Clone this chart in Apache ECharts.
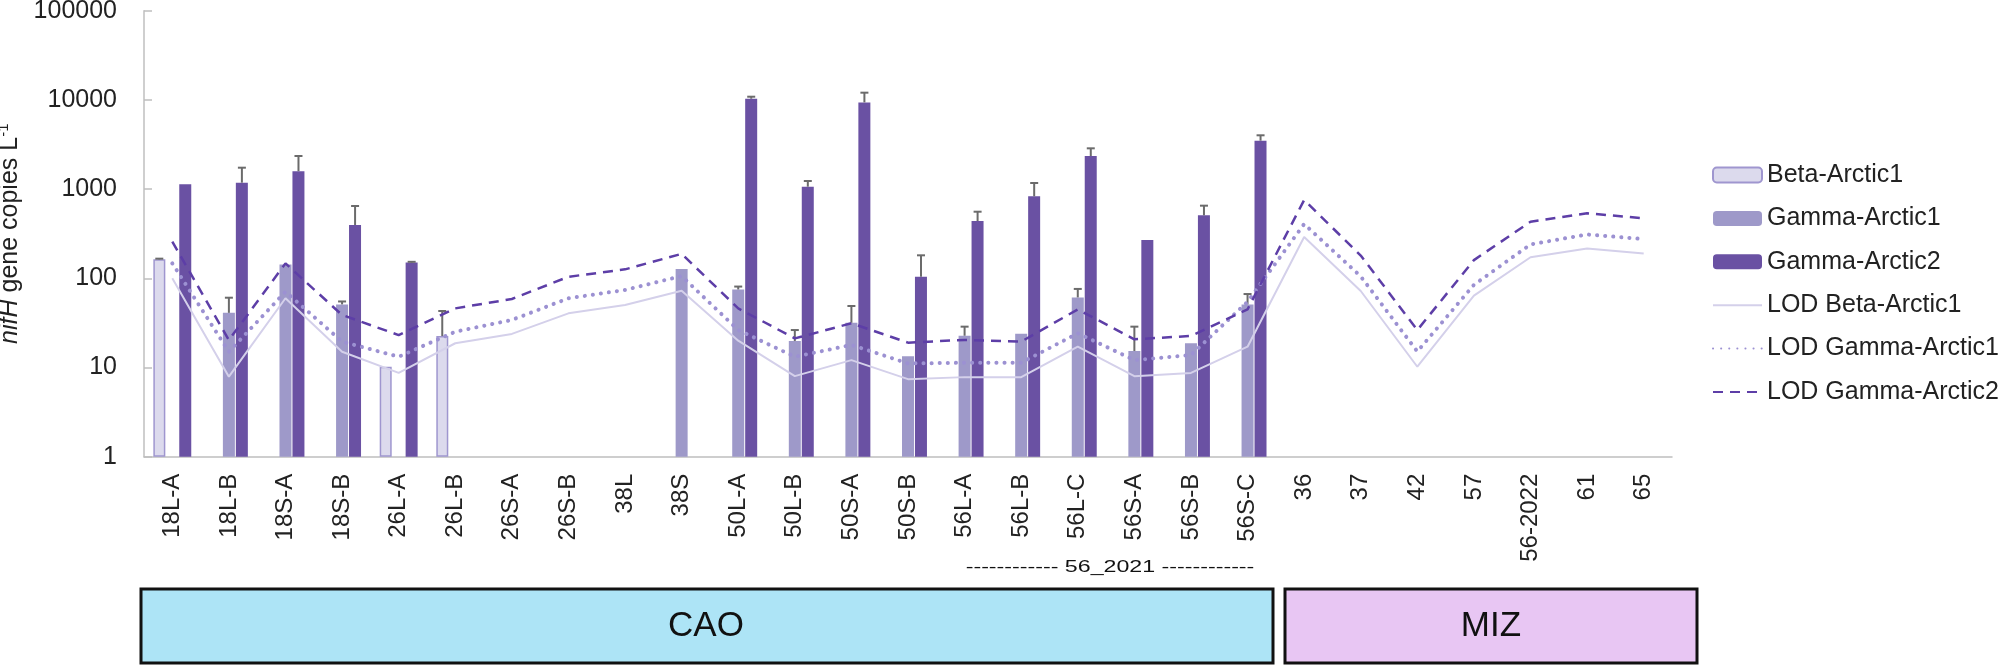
<!DOCTYPE html>
<html>
<head>
<meta charset="utf-8">
<script src="https://cdn.jsdelivr.net/npm/echarts@6/dist/echarts.min.js"></script>
<style>
  html, body { margin: 0; padding: 0; background: #fff; }
  #chart { width: 2000px; height: 665px; }
</style>
</head>
<body>
<div id="chart"></div>
<script>
const categories = ['18L-A','18L-B','18S-A','18S-B','26L-A','26L-B','26S-A','26S-B','38L','38S','50L-A','50L-B','50S-A','50S-B','56L-A','56L-B','56L-C','56S-A','56S-B','56S-C','36','37','42','57','56-2022','61','65'];

const betaArctic1 =   [163, null, null, null, 10.2, 22.5, null, null, null, null, null, null, null, null, null, null, null, null, null, null, null, null, null, null, null, null, null];
const betaArctic1Up = [166, null, null, null, null, 43, null, null, null, null, null, null, null, null, null, null, null, null, null, null, null, null, null, null, null, null, null];

const gammaArctic1 =   [null, 41, 143, 51, null, null, null, null, null, 127, 75, 19.8, 31.7, 13.4, 22.7, 23.9, 61, 15.3, 18.7, 51, null, null, null, null, null, null, null];
const gammaArctic1Up = [null, 60.6, null, 55, null, null, null, null, null, null, 80.8, 26.3, 48.9, null, 28.7, null, 76, 28.7, null, 66.6, null, null, null, null, null, null, null];

const gammaArctic2 =   [1132, 1180, 1587, 396, 150, null, null, null, null, null, 10310, 1064, 9380, 104, 439, 830, 2350, 269, 508, 3490, null, null, null, null, null, null, null];
const gammaArctic2Up = [null, 1738, 2350, 646, 153, null, null, null, null, null, 10860, 1233, 12050, 181, 558, 1170, 2865, null, 652, 4010, null, null, null, null, null, null, null];

const lodBetaArctic1 =  [100, 7.9, 59.7, 15, 8.7, 18.7, 23.8, 40.5, 50.2, 72.6, 20, 8.0, 12.1, 7.4, 7.8, 7.8, 17.1, 8.0, 8.7, 17.1, 290, 72, 10.2, 64, 172, 216, 190];
const lodGammaArctic1 = [147, 15, 70.8, 19.5, 13.2, 25.2, 34.1, 59.7, 74, 106, 26.3, 13.2, 17.9, 11.1, 11.3, 11.3, 24.2, 12.1, 13.8, 54.6, 406, 105, 15.1, 84.5, 240, 310, 275];
const lodGammaArctic2 = [257, 20.3, 147, 38.8, 23.1, 46, 58.6, 104, 126, 188, 46, 21.2, 31.3, 19.0, 20.4, 19.5, 44.8, 20.7, 22.6, 44.9, 755, 180, 26.3, 160, 431, 535, 470];

const regionNames = ['CAO', 'MIZ'];
const subGroupLabel = '------------ 56_2021 ------------';

const FONT = 'Liberation Sans, Arial, sans-serif';
const C_BETA = '#dcdaed', C_BETA_B = '#9f96cf';
const C_G1 = '#9e99c9';
const C_G2 = '#6a51a3';
const C_LOD_B = '#d4d0ea', C_LOD_G1 = '#9c91d2', C_LOD_G2 = '#5d3ea7';
const ERR = '#6b6b6b';

function errData(mean, up) {
  const out = [];
  for (let i = 0; i < mean.length; i++) {
    if (mean[i] != null && up[i] != null) out.push([i, mean[i], up[i]]);
  }
  return out;
}
function errRender(offset) {
  return function (params, api) {
    const ci = api.value(0);
    const p1 = api.coord([ci, api.value(1)]);
    const p2 = api.coord([ci, api.value(2)]);
    const x = p1[0] + offset;
    return {
      type: 'group',
      children: [
        { type: 'line', shape: { x1: x, y1: p1[1], x2: x, y2: p2[1] }, style: { stroke: ERR, lineWidth: 2 } },
        { type: 'line', shape: { x1: x - 4, y1: p2[1], x2: x + 4, y2: p2[1] }, style: { stroke: ERR, lineWidth: 2 } }
      ]
    };
  };
}

const hideSym = { opacity: 0 };

const chart = echarts.init(document.getElementById('chart'));
const option = {
  backgroundColor: '#fff',
  animation: false,
  textStyle: { fontFamily: FONT },
  grid: { left: 144, right: 328, top: 10.7, bottom: 208.3, containLabel: false, outerBoundsMode: 'none' },
  legend: {
    orient: 'vertical',
    left: 1707, top: 155,
    itemWidth: 49, itemHeight: 15, itemGap: 13.4,
    textStyle: { fontSize: 25, color: '#222', fontFamily: FONT, lineHeight: 30 },
    data: [
      { name: 'Beta-Arctic1' },
      { name: 'Gamma-Arctic1' },
      { name: 'Gamma-Arctic2' },
      { name: 'LOD Beta-Arctic1', itemStyle: hideSym },
      { name: 'LOD Gamma-Arctic1', itemStyle: hideSym },
      { name: 'LOD Gamma-Arctic2', itemStyle: hideSym }
    ]
  },
  xAxis: {
    type: 'category',
    data: categories,
    boundaryGap: true,
    axisLine: { lineStyle: { color: '#bfbfbf', width: 1.5 } },
    axisTick: { inside: true, length: 9, lineStyle: { color: '#bfbfbf', width: 1.5 } },
    axisLabel: { rotate: 90, interval: 0, fontSize: 24, color: '#222', margin: 17, fontFamily: FONT },
    splitLine: { show: false }
  },
  yAxis: {
    type: 'log',
    logBase: 10,
    min: 1, max: 100000,
    axisLine: { show: true, lineStyle: { color: '#bfbfbf', width: 1.5 } },
    axisTick: { show: true, inside: true, length: 8, lineStyle: { color: '#bfbfbf', width: 1.5 } },
    axisLabel: { fontSize: 25, color: '#222', margin: 27, fontFamily: FONT, formatter: v => String(Math.round(v)) },
    splitLine: { show: false },
    minorTick: { show: false },
    name: '{i|nifH} gene copies L{s|-1}',
    nameLocation: 'middle',
    nameGap: 118,
    nameRotate: 90,
    nameTextStyle: {
      fontSize: 25, color: '#222', fontFamily: FONT,
      rich: {
        i: { fontSize: 25, fontStyle: 'italic', color: '#222', fontFamily: FONT },
        s: { fontSize: 15, color: '#222', fontFamily: FONT, verticalAlign: 'top', padding: [0, 0, 12, 0] }
      }
    }
  },
  series: [
    { name: 'Beta-Arctic1', type: 'bar', data: betaArctic1, barWidth: 12, barGap: '8%', barCategoryGap: '30%',
      itemStyle: { color: C_BETA, borderColor: C_BETA_B, borderWidth: 1.5 }, z: 2 },
    { name: 'Gamma-Arctic1', type: 'bar', data: gammaArctic1, barWidth: 12, barGap: '8%',
      itemStyle: { color: C_G1 }, z: 2 },
    { name: 'Gamma-Arctic2', type: 'bar', data: gammaArctic2, barWidth: 12, barGap: '8%',
      itemStyle: { color: C_G2 }, z: 2 },
    { name: 'errBeta', type: 'custom', data: errData(betaArctic1, betaArctic1Up), encode: { x: 0, y: [1, 2] },
      renderItem: errRender(-13), z: 3, silent: true },
    { name: 'errG1', type: 'custom', data: errData(gammaArctic1, gammaArctic1Up), encode: { x: 0, y: [1, 2] },
      renderItem: errRender(0), z: 3, silent: true },
    { name: 'errG2', type: 'custom', data: errData(gammaArctic2, gammaArctic2Up), encode: { x: 0, y: [1, 2] },
      renderItem: errRender(13), z: 3, silent: true },
    { name: 'LOD Beta-Arctic1', type: 'line', data: lodBetaArctic1, symbol: 'none',
      lineStyle: { color: C_LOD_B, width: 2 }, itemStyle: { color: C_LOD_B }, z: 4 },
    { name: 'LOD Gamma-Arctic1', type: 'line', data: lodGammaArctic1, symbol: 'none',
      lineStyle: { color: C_LOD_G1, width: 4, type: [0.1, 8], cap: 'round' }, itemStyle: { color: C_LOD_G1 }, z: 4 },
    { name: 'LOD Gamma-Arctic2', type: 'line', data: lodGammaArctic2, symbol: 'none',
      lineStyle: { color: C_LOD_G2, width: 2.5, type: [10, 7] }, itemStyle: { color: C_LOD_G2 }, z: 4 }
  ],
  graphic: [
    { type: 'text', x: 1110, y: 568, scaleX: 1.45, style: { text: subGroupLabel, font: '16px ' + FONT, fill: '#111', align: 'center', verticalAlign: 'middle' } },
    { type: 'rect', shape: { x: 141, y: 589, width: 1132, height: 74 }, style: { fill: '#ade4f6', stroke: '#111', lineWidth: 3 } },
    { type: 'text', x: 706, y: 626, style: { text: regionNames[0], font: '35px ' + FONT, fill: '#111', align: 'center', verticalAlign: 'middle' } },
    { type: 'rect', shape: { x: 1285, y: 589, width: 412, height: 74 }, style: { fill: '#e8c6f3', stroke: '#111', lineWidth: 3 } },
    { type: 'text', x: 1491, y: 626, style: { text: regionNames[1], font: '35px ' + FONT, fill: '#111', align: 'center', verticalAlign: 'middle' } }
  ]
};
chart.setOption(option);
</script>
</body>
</html>
